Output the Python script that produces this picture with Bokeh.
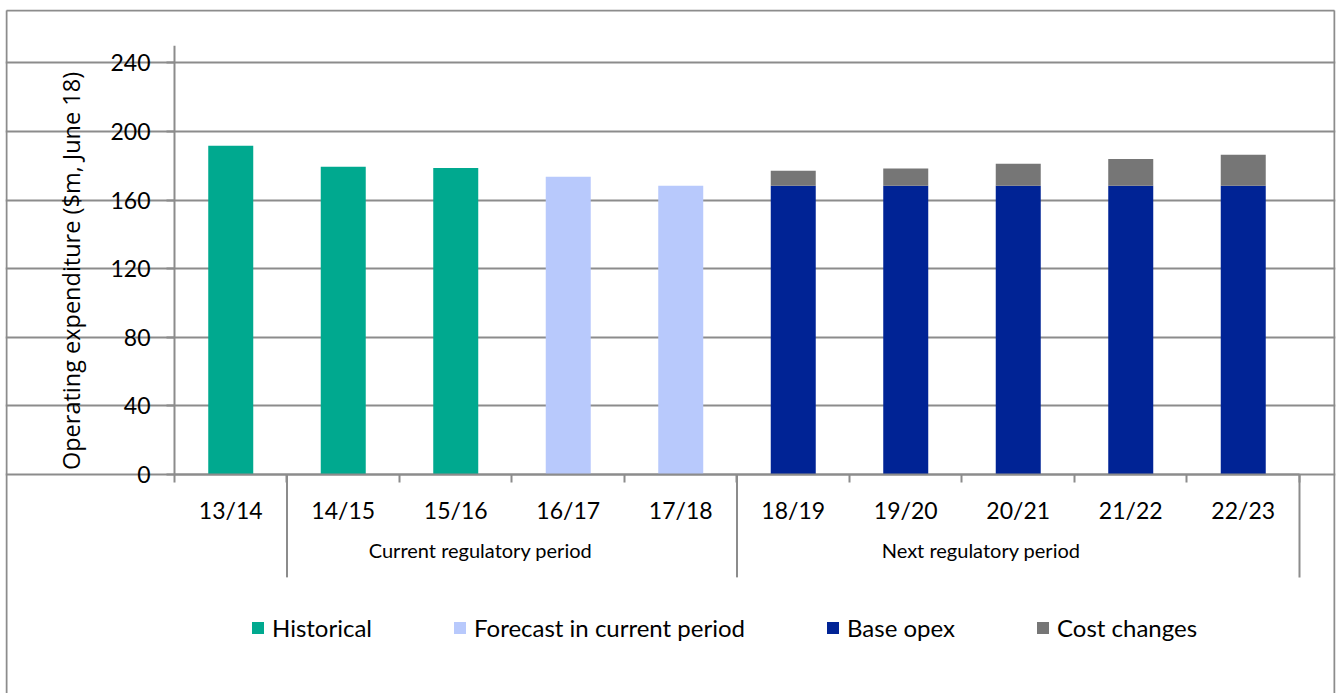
from bokeh.plotting import figure
from bokeh.models import (Range1d, FixedTicker, LinearAxis, ColumnDataSource)
from bokeh.embed import file_html
from bokeh.resources import INLINE

# ---- data ----
categories = ["13/14", "14/15", "15/16", "16/17", "17/18",
              "18/19", "19/20", "20/21", "21/22", "22/23"]
historical = [191.6, 179.4, 178.6]            # 13/14 - 15/16
forecast = [173.6, 168.3]                     # 16/17 - 17/18
base_opex = [168.3, 168.3, 168.3, 168.3, 168.3]   # 18/19 - 22/23
cost_changes = [8.8, 10.1, 12.9, 15.6, 18.1]      # 18/19 - 22/23
y_ticks = [0, 40, 80, 120, 160, 200, 240]
group_names = ["Current regulatory period", "Next regulatory period"]
group_bounds = [1, 5, 10]   # category index boundaries of the periods

# ---- styles ----
TEAL = "#00A98F"
LIGHT = "#B8C9FC"
DARK = "#002395"
GREY = "#767676"
LINE = "#8C8C8C"
FONT = "Lato"

n = len(categories)
xc = [i + 0.5 for i in range(n)]
n_h, n_f = len(historical), len(forecast)

src_h = ColumnDataSource(dict(x=xc[:n_h], top=historical))
src_f = ColumnDataSource(dict(x=xc[n_h:n_h + n_f], top=forecast))
cost_top = [b + c for b, c in zip(base_opex, cost_changes)]
src_b = ColumnDataSource(dict(x=xc[n_h + n_f:], top=base_opex, bottom=[0] * len(base_opex)))
src_c = ColumnDataSource(dict(x=xc[n_h + n_f:], top=cost_top, bottom=base_opex))

W, H = 1337, 693
X0, X1, Y0, Y1 = -1.5022, 10.32, -127.7, 271.07
p = figure(width=W, height=H, output_backend="svg", toolbar_location=None,
           x_range=Range1d(X0, X1), y_range=Range1d(Y0, Y1),
           min_border_left=5, min_border_right=2, min_border_top=9, min_border_bottom=0)
p.outline_line_color = None
p.background_fill_color = "white"
p.border_fill_color = "white"

# chart-area border (left, top, right; the bottom edge lies below the picture)
BL, BR, BT = -1.4933, 10.311, 270.5
p.multi_line(xs=[[BL, BL], [BL, BR], [BR, BR]], ys=[[Y0, BT], [BT, BT], [BT, Y0]],
             line_color=LINE, line_width=2)

bw = 0.4
p.vbar(x="x", top="top", bottom=0, width=bw, source=src_h, fill_color=TEAL,
       line_color=None, legend_label="Historical")
p.vbar(x="x", top="top", bottom=0, width=bw, source=src_f, fill_color=LIGHT,
       line_color=None, legend_label="Forecast in current period")
p.vbar(x="x", top="top", bottom="bottom", width=bw, source=src_b, fill_color=DARK,
       line_color=None, legend_label="Base opex")
p.vbar(x="x", top="top", bottom="bottom", width=bw, source=src_c, fill_color=GREY,
       line_color=None, legend_label="Cost changes")

# grid
yt = FixedTicker(ticks=y_ticks)
p.xgrid.visible = False
p.ygrid.ticker = yt
p.ygrid.bounds = (0, n)
p.ygrid.grid_line_color = LINE
p.ygrid.grid_line_width = 2

# y axis line (value axis extends a little above the top tick)
p.segment(x0=[0], y0=[0], x1=[0], y1=[250], line_color=LINE, line_width=2)

# period separator lines below the category axis
p.segment(x0=group_bounds, y0=[0] * len(group_bounds), x1=group_bounds,
          y1=[-60] * len(group_bounds), line_color=LINE, line_width=2)

# y axis
ya = p.yaxis[0]
ya.ticker = yt
ya.fixed_location = 0
ya.bounds = (-13, 250)
ya.axis_line_color = None
ya.major_tick_line_color = LINE
ya.major_tick_line_width = 2
ya.major_tick_out = 8
ya.major_tick_in = 0
ya.minor_tick_line_color = None
ya.major_label_text_font = FONT
ya.major_label_text_font_size = "23px"
ya.major_label_text_color = "black"
ya.major_label_standoff = 16
ya.axis_label = "Operating expenditure ($m, June 18)"
ya.axis_label_text_font = "Open Sans"
ya.axis_label_text_font_size = "23.5px"
ya.axis_label_text_font_style = "normal"
ya.axis_label_text_color = "black"
ya.axis_label_standoff = 20

# x axis: category labels at centres, ticks at boundaries
xa = p.xaxis[0]
xa.ticker = FixedTicker(ticks=xc, minor_ticks=list(range(n + 1)))
xa.major_label_overrides = {x: c for x, c in zip(xc, categories)}
xa.fixed_location = 0
xa.bounds = (0, n)
xa.axis_line_color = LINE
xa.axis_line_width = 2
xa.major_tick_line_color = None
xa.major_tick_out = 0
xa.major_tick_in = 0
xa.minor_tick_line_color = LINE
xa.minor_tick_line_width = 2
xa.minor_tick_out = 8
xa.minor_tick_in = 0
xa.major_label_text_font = FONT
xa.major_label_text_font_size = "23px"
xa.major_label_text_color = "black"
xa.major_label_standoff = 14

# period labels
gpos = [2.72, 7.17]
ga = LinearAxis(ticker=FixedTicker(ticks=gpos), fixed_location=0)
ga.major_label_overrides = {x: g for x, g in zip(gpos, group_names)}
ga.axis_line_color = None
ga.major_tick_line_color = None
ga.major_tick_out = 0
ga.major_tick_in = 0
ga.minor_tick_line_color = None
ga.major_label_text_font = FONT
ga.major_label_text_font_size = "20px"
ga.major_label_text_color = "black"
ga.major_label_standoff = 64
p.add_layout(ga, "below")

# legend
lg = p.legend[0]
lg.orientation = "horizontal"
lg.location = (245, 51)
lg.label_text_font = FONT
lg.label_text_font_size = "24px"
lg.label_text_color = "black"
lg.glyph_width = 15
lg.glyph_height = 15
lg.label_standoff = 7
lg.spacing = 80
lg.padding = 0
lg.margin = 0
lg.border_line_color = None
lg.background_fill_alpha = 0

open("out.html", "w").write(file_html(p, INLINE))
